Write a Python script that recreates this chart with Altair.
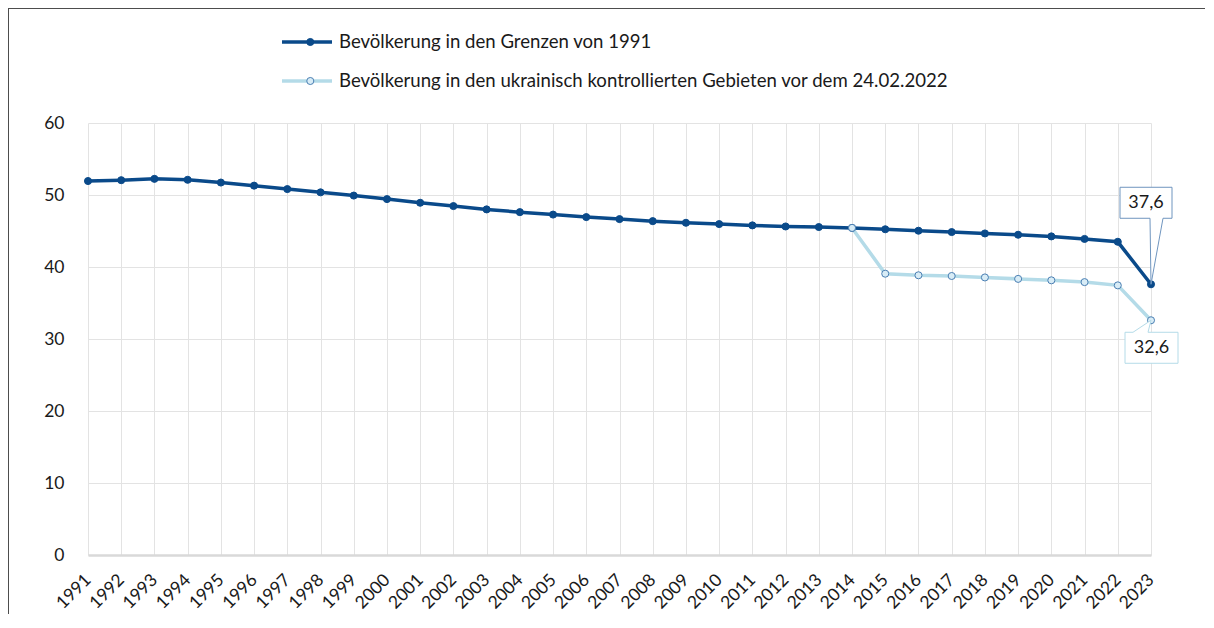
import altair as alt
import pandas as pd

# ---- data ----
years = [str(y) for y in range(1991, 2024)]
pop_1991 = [51.94, 52.06, 52.24, 52.11, 51.73, 51.30, 50.82, 50.37, 49.92, 49.43,
            48.92, 48.46, 48.00, 47.62, 47.28, 46.93, 46.65, 46.37, 46.14, 45.96,
            45.78, 45.63, 45.55, 45.43, 45.24, 45.04, 44.85, 44.66, 44.48, 44.25,
            43.90, 43.50, 37.60]
years_ctrl = [str(y) for y in range(2014, 2024)]
pop_ctrl = [45.43, 39.07, 38.85, 38.75, 38.55, 38.35, 38.15, 37.90, 37.45, 32.60]

series_names = ["Bevölkerung in den Grenzen von 1991",
                "Bevölkerung in den ukrainisch kontrollierten Gebieten vor dem 24.02.2022"]
series_codes = ["a", "b"]

callout_years = ["2023", "2023"]
callout_values = [37.6, 32.6]
callout_labels = ["37,6", "32,6"]

y_ticks = [0, 10, 20, 30, 40, 50, 60]

# ---- styles ----
DARK = "#0a4a8a"
LIGHT = "#b4dbe8"
LIGHT_FILL = "#d8ecf6"
MARKER_STROKE = "#4a7fb3"
BOX1 = "#6f95bf"
BOX2 = "#b4dbe8"
FONT = "Lato"

rows = []
for yr, v in zip(years, pop_1991):
    rows.append({"year": yr, "value": v, "series": series_names[0], "code": series_codes[0]})
for yr, v in zip(years_ctrl, pop_ctrl):
    rows.append({"year": yr, "value": v, "series": series_names[1], "code": series_codes[1]})
df = pd.DataFrame(rows)

callout_df = pd.DataFrame({"year": callout_years, "value": callout_values, "label": callout_labels})

x_enc = alt.X("year:O", sort=years,
              scale=alt.Scale(type="point", padding=0, domain=years),
              axis=alt.Axis(title=None, labelAngle=-45, labelAlign="right", labelBaseline="middle",
                            labelFontSize=17.5, labelPadding=22, ticks=False, grid=True,
                            gridColor="#e3e3e3", domainColor="#d9d9d9", domainWidth=2.5,
                            labelColor="#1a1a1a"))
y_enc = alt.Y("value:Q", scale=alt.Scale(domain=[0, 60], nice=False),
              axis=alt.Axis(title=None, values=y_ticks, ticks=False, domain=False, grid=True,
                            gridColor="#e3e3e3", labelFontSize=17.5, labelPadding=24,
                            labelColor="#1a1a1a"))

base = alt.Chart(df).encode(x=x_enc, y=y_enc)

line_legend = alt.Legend(orient="none", legendX=192, legendY=-89, direction="vertical",
                         title=None, symbolType="stroke", symbolSize=2500, symbolStrokeWidth=3.5,
                         clipHeight=16, rowPadding=20, labelFont=FONT, labelFontSize=18.6,
                         labelColor="#1a1a1a", labelOffset=5, padding=0, labelLimit=0)
lines = base.mark_line(strokeWidth=3.5).encode(
    color=alt.Color("series:N", scale=alt.Scale(domain=series_names, range=[DARK, LIGHT]),
                    legend=line_legend))

point_legend = alt.Legend(orient="none", legendX=213, legendY=-89, direction="vertical",
                          title=None, symbolType="circle", symbolSize=50, symbolStrokeWidth=1,
                          clipHeight=16, rowPadding=20, labelExpr="''", labelFontSize=18.6,
                          padding=0)
points = base.mark_point(filled=True, size=50, strokeWidth=1, opacity=1).encode(
    fill=alt.Fill("code:N", scale=alt.Scale(domain=series_codes, range=[DARK, LIGHT_FILL]),
                  legend=point_legend),
    stroke=alt.Stroke("code:N", scale=alt.Scale(domain=series_codes, range=[DARK, MARKER_STROKE]),
                      legend=point_legend))

PATH_UP = "M-31,-97 L21,-97 L21,-66 L12,-66 L0,0 L-1,-66 L-31,-66 Z"
PATH_DOWN = "M-26,12 L-18,12 L0,0 L-3,12 L27,12 L27,43 L-26,43 Z"

c1 = alt.Chart(callout_df.iloc[[0]]).encode(x=x_enc, y=y_enc)
c2 = alt.Chart(callout_df.iloc[[1]]).encode(x=x_enc, y=y_enc)
box1 = c1.mark_point(shape=PATH_UP, size=4, filled=True, fill="white", stroke=BOX1,
                     strokeWidth=1, opacity=1)
txt1 = c1.mark_text(dx=-5, dy=-81, align="center", baseline="middle", fontSize=18,
                    font=FONT, color="#1a1a1a").encode(text="label:N")
box2 = c2.mark_point(shape=PATH_DOWN, size=4, filled=True, fill="white", stroke=BOX2,
                     strokeWidth=1, opacity=1)
txt2 = c2.mark_text(dx=0.5, dy=28, align="center", baseline="middle", fontSize=18,
                    font=FONT, color="#1a1a1a").encode(text="label:N")

frame = alt.Chart(pd.DataFrame({"f": [0]})).mark_rect(
    fill="white", fillOpacity=0, stroke="#4d4d4d", strokeWidth=2).encode(
    x=alt.value(-80), x2=alt.value(3000), y=alt.value(-115), y2=alt.value(3000))

chart = alt.layer(frame, lines, points, box1, box2, txt1, txt2).resolve_scale(
    color="independent", fill="independent", stroke="independent").properties(
    width=1063, height=432,
    padding={"left": 80, "top": 115, "right": 54, "bottom": 59},
    autosize=alt.AutoSizeParams(type="none"),
).configure_view(strokeWidth=0).configure_axis(labelFont=FONT).configure_text(font=FONT)

chart.save("out.html", embed_options={"renderer": "svg", "actions": False})
